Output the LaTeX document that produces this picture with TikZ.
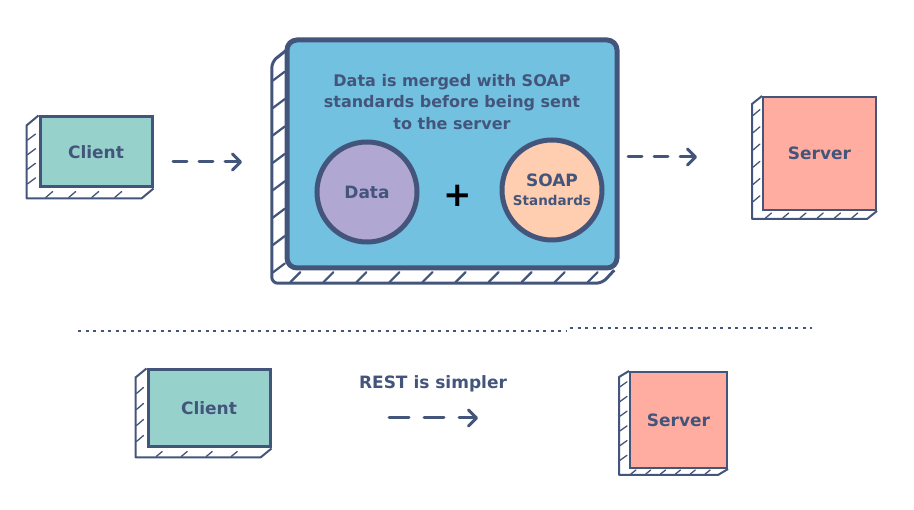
\documentclass[tikz,border=0pt]{standalone}
\usepackage{fontspec}
\setmainfont{DejaVu Sans}
\usetikzlibrary{arrows.meta,calc}
\definecolor{ink}{HTML}{44557B}
\definecolor{clientfill}{HTML}{96D1CB}
\definecolor{soapfill}{HTML}{72C1E0}
\definecolor{datafill}{HTML}{B1A7D3}
\definecolor{stdfill}{HTML}{FFCDB0}
\definecolor{serverfill}{HTML}{FFADA0}
\begin{document}
\begin{tikzpicture}[x=1pt,y=-1pt]
\tikzstyle{every node}+=[inner sep=0pt,text=ink,font=\bfseries\fontsize{17}{21.5}\selectfont]
\tikzstyle{box}=[draw=ink,line width=3pt,rectangle]
\tikzstyle{side}=[draw=ink,line width=2pt,fill=white,line join=round]
\tikzstyle{hatch}=[draw=ink,line width=1.3pt,line cap=round]
\tikzstyle{flow}=[draw=ink,line width=3pt,line cap=round,dash pattern=on 14pt off 12pt,-{Straight Barb[length=8pt,width=16pt,round]}]
\useasboundingbox (0,0) rectangle (914,510);
% top client
\node [box,fill=clientfill,minimum width=112pt,minimum height=70pt] (client1) at (96,152) {};
\draw [side] (client1.north west) -- ($(client1.north west)+(-12,10)$) -- ($(client1.south west)+(-12,10)$) -- ($(client1.south east)+(-12,10)$) -- (client1.south east);
\foreach \t in {0.2,0.4,0.6,0.8}
  \draw [hatch] ($(client1.north west)!\t!(client1.south west)+(-11,10)$) -- ++(8,-6);
\foreach \t in {0.15,0.35,0.55,0.75}
  \draw [hatch] ($(client1.south west)!\t!(client1.south east)+(-10,9)$) -- ++(7,-6);
\node [box,fill=clientfill,minimum width=112pt,minimum height=70pt] at (client1) {Client};
% soap box
\node [minimum width=330pt,minimum height=228pt] (soap) at (452,154) {};
\draw [side,line width=3pt,rounded corners=6pt] ($(soap.north west)+(0,10)$) -- ($(soap.north west)+(-15,22)$) -- ($(soap.south west)+(-15,15)$) -- ($(soap.south east)+(-15,15)$) -- ($(soap.south east)+(-3,2)$);
\foreach \t in {0.1,0.22,...,0.95}
  \draw [hatch,line width=2.2pt] ($(soap.north west)!\t!(soap.south west)+(-14,18)$) -- ++(12,-9);
\foreach \t in {0.05,0.15,...,0.95}
  \draw [hatch,line width=2.2pt] ($(soap.south west)!\t!(soap.south east)+(-13,14)$) -- ++(10,-10);
\node [box,line width=5pt,rounded corners=10pt,fill=soapfill,minimum width=330pt,minimum height=228pt] at (soap) {};
\node [align=center,font=\bfseries\fontsize{16}{21.5}\selectfont] (title) at (452,102) {Data is merged with SOAP\\standards before being sent\\to the server};
\node [circle,draw=ink,line width=5pt,fill=datafill,minimum size=100pt] (data) at (367,192) {Data};
\node [text=black,font=\bfseries\fontsize{34}{34}\selectfont] (plus) at (458,196) {+};
\node [circle,draw=ink,line width=5pt,fill=stdfill,minimum size=100pt,align=center] (std) at (552,190) {SOAP\\[-3pt]{\fontsize{13.5}{14}\selectfont Standards}};
% top server
\node [box,line width=2pt,fill=serverfill,minimum width=113pt,minimum height=113pt] (server1) at (819.5,153.5) {};
\draw [side] (server1.north west) -- ($(server1.north west)+(-10,8)$) -- ($(server1.south west)+(-10,8)$) -- ($(server1.south east)+(-10,8)$) -- (server1.south east);
\foreach \t in {0.1,0.25,...,0.9}
  \draw [hatch] ($(server1.north west)!\t!(server1.south west)+(-9,8)$) -- ++(7,-6);
\foreach \t in {0.1,0.25,...,0.9}
  \draw [hatch] ($(server1.south west)!\t!(server1.south east)+(-8,7)$) -- ++(6,-5);
\node [box,line width=2pt,fill=serverfill,minimum width=113pt,minimum height=113pt] at (server1) {Server};
% top arrows
\coordinate (a1s) at (173,162);
\coordinate (a1e) at (242,162);
\draw [flow] (a1s) -- (a1e);
\coordinate (a2s) at (628,157);
\coordinate (a2e) at (697,157);
\draw [flow] (a2s) -- (a2e);
% separator
\coordinate (sepL) at (78,331);
\coordinate (sepM) at (566,331);
\coordinate (sepN) at (570,328);
\coordinate (sepR) at (812,328);
\draw [ink,line width=1.8pt,dash pattern=on 3pt off 4.5pt] (sepL) -- (sepM);
\draw [ink,line width=1.8pt,dash pattern=on 3pt off 4.5pt] (sepN) -- (sepR);
% bottom client
\node [box,fill=clientfill,minimum width=122pt,minimum height=77pt] (client2) at (209,408.5) {};
\draw [side] (client2.north west) -- ($(client2.north west)+(-11,9)$) -- ($(client2.south west)+(-11,9)$) -- ($(client2.south east)+(-11,9)$) -- (client2.south east);
\foreach \t in {0.2,0.4,0.6,0.8}
  \draw [hatch] ($(client2.north west)!\t!(client2.south west)+(-10,9)$) -- ++(7,-6);
\foreach \t in {0.15,0.35,0.55,0.75}
  \draw [hatch] ($(client2.south west)!\t!(client2.south east)+(-9,8)$) -- ++(6,-5);
\node [box,fill=clientfill,minimum width=122pt,minimum height=77pt] at (client2) {Client};
% rest
\node (rest) at (433,384) {REST is simpler};
\coordinate (a3s) at (389,418);
\coordinate (a3e) at (478,418);
\draw [flow,dash pattern=on 20pt off 15pt] (a3s) -- (a3e);
% bottom server
\node [box,line width=2pt,fill=serverfill,minimum width=97pt,minimum height=96pt] (server2) at (678.5,420) {};
\draw [side] (server2.north west) -- ($(server2.north west)+(-10,6)$) -- ($(server2.south west)+(-10,6)$) -- ($(server2.south east)+(-10,6)$) -- (server2.south east);
\foreach \t in {0.1,0.25,...,0.9}
  \draw [hatch] ($(server2.north west)!\t!(server2.south west)+(-9,6)$) -- ++(7,-5);
\foreach \t in {0.1,0.25,...,0.9}
  \draw [hatch] ($(server2.south west)!\t!(server2.south east)+(-8,5)$) -- ++(5,-4);
\node [box,line width=2pt,fill=serverfill,minimum width=97pt,minimum height=96pt] at (server2) {Server};
\end{tikzpicture}
\end{document}
